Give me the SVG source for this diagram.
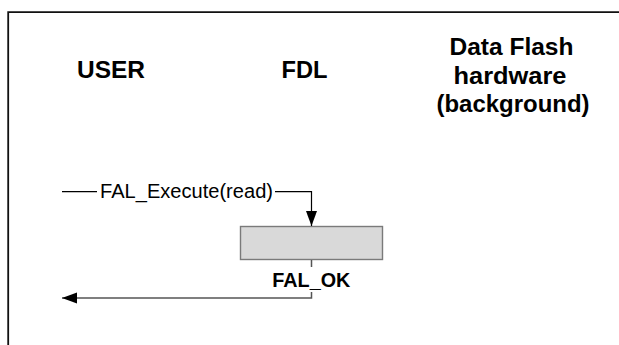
<svg xmlns="http://www.w3.org/2000/svg" width="619" height="345" viewBox="0 0 619 345">
  <defs>
    <style>
      .frame { fill: none; stroke: #111; stroke-width: 1.8; }
      .lane { font-family: "Liberation Sans", Arial, sans-serif; font-weight: bold; font-size: 23px; fill: #000; text-anchor: middle; }
      .msg { font-family: "Liberation Sans", Arial, sans-serif; font-size: 20px; fill: #000; }
      .ret { font-family: "Liberation Sans", Arial, sans-serif; font-weight: bold; font-size: 21px; fill: #000; text-anchor: middle; }
      .call { fill: none; stroke: #000; stroke-width: 1.2; }
      .reply { fill: none; stroke: #555; stroke-width: 1.5; }
      .act { fill: #d9d9d9; stroke: #7a7a7a; stroke-width: 1.4; }
    </style>
    <marker id="head" markerUnits="userSpaceOnUse" markerWidth="16" markerHeight="12" refX="15" refY="5.5" orient="auto">
      <path d="M0,0 L15,5.5 L0,11 Z" fill="#000"/>
    </marker>
  </defs>

  <rect x="0" y="0" width="619" height="345" fill="#fff"/>

  <!-- outer frame: top and left edges -->
  <path class="frame" d="M8.2,345 L8.2,12.2 L619,12.2"/>

  <!-- lane headers -->
  <g id="lane-user">
    <text class="lane" x="111" y="78" textLength="68" lengthAdjust="spacingAndGlyphs">USER</text>
  </g>
  <g id="lane-fdl">
    <text class="lane" x="304.5" y="78" textLength="46" lengthAdjust="spacingAndGlyphs">FDL</text>
  </g>
  <g id="lane-hw">
    <text class="lane" x="511.5" y="55" textLength="124" lengthAdjust="spacingAndGlyphs">Data Flash</text>
    <text class="lane" x="510" y="84" textLength="113" lengthAdjust="spacingAndGlyphs">hardware</text>
    <text class="lane" x="513" y="112" textLength="153" lengthAdjust="spacingAndGlyphs">(background)</text>
  </g>

  <!-- FDL activity -->
  <g id="fdl-activity">
    <rect class="act" x="240.5" y="226.5" width="142" height="33"/>
  </g>

  <!-- messages -->
  <g id="connectors">
    <path class="call" d="M62,191.7 L97,191.7"/>
    <path class="call" d="M275,191.7 L311.5,191.7 L311.5,226" marker-end="url(#head)"/>
    <path class="reply" d="M311.5,260 L311.5,298 L62,298" marker-end="url(#head)"/>
  </g>

  <!-- message labels -->
  <g id="label-execute">
    <text class="msg" x="100" y="198" textLength="173" lengthAdjust="spacingAndGlyphs">FAL_Execute(read)</text>
  </g>
  <g id="label-ok">
    <rect x="270" y="267" width="83" height="25" fill="#fff"/>
    <text class="ret" x="311.3" y="287" textLength="78" lengthAdjust="spacingAndGlyphs">FAL_OK</text>
  </g>
</svg>
